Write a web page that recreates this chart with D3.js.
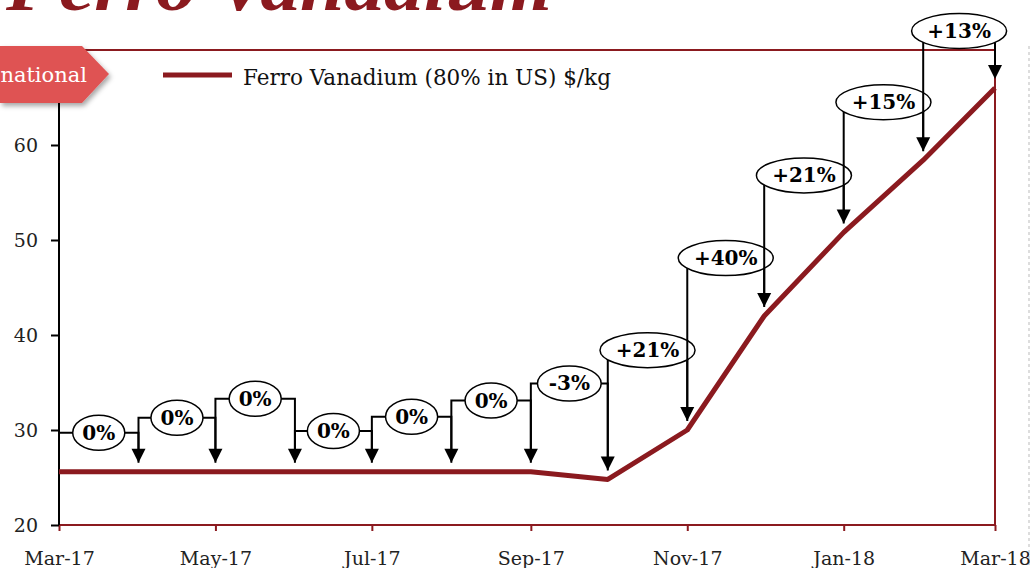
<!DOCTYPE html>
<html lang="en">
<head>
    <meta charset="UTF-8">
    <title>Ferro Vanadium</title>
    <style>
        body {
            margin: 0;
            background: #fff;
        }
        svg {
            display: block;
        }
        .axis text {
            font-family: "DejaVu Serif", serif;
            font-size: 19px;
            fill: #222;
        }
        .note text {
            font-family: "DejaVu Serif", serif;
            font-size: 20px;
            font-weight: bold;
        }
    </style>
</head>
<body>
    <svg width="1030" height="568"></svg>

    <script src="https://d3js.org/d3.v7.min.js"></script>
    <script>
        // monthly prices, $/kg
        const months = ["2017-03", "2017-04", "2017-05", "2017-06", "2017-07", "2017-08", "2017-09",
                        "2017-10", "2017-11", "2017-12", "2018-01", "2018-02", "2018-03"];
        const prices = [25.6, 25.6, 25.6, 25.6, 25.6, 25.6, 25.6, 24.8, 30.0, 42.0, 50.8, 58.4, 66.0];

        // month-on-month change callouts
        const changeLabels = ["0%", "0%", "0%", "0%", "0%", "0%", "-3%", "+21%", "+40%", "+21%", "+15%", "+13%"];
        const labelLevels = [29.7, 31.3, 33.3, 29.9, 31.4, 33.1, 34.9, 38.4, 48.1, 56.8, 64.5, 72.0];

        const yTicks = [20, 30, 40, 50, 60];
        const legendLabel = "Ferro Vanadium (80% in US) $/kg";

        const dark = "#8b1a1f";
        const parse = d3.timeParse("%Y-%m");
        const dates = months.map(parse);

        const svg = d3.select("svg");
        const plotLeft = 59, plotRight = 995, plotTop = 50, plotBottom = 525;

        const x = d3.scaleTime()
            .domain(d3.extent(dates))
            .range([plotLeft, plotRight]);

        const y = d3.scaleLinear()
            .domain([20, 70])
            .range([plotBottom, plotTop]);

        // drop shadow for the section tag
        const defs = svg.append("defs");
        const shadow = defs.append("filter").attr("id", "shadow")
            .attr("x", "-20%").attr("y", "-20%").attr("width", "150%").attr("height", "160%");
        shadow.append("feDropShadow")
            .attr("dx", 2).attr("dy", 3).attr("stdDeviation", 2.5)
            .attr("flood-color", "#000").attr("flood-opacity", 0.35);

        // title, cut off at the top of the picture like in the slide
        svg.append("text")
            .attr("x", 6)
            .attr("y", 10)
            .attr("textLength", 546)
            .attr("lengthAdjust", "spacingAndGlyphs")
            .style("font-family", "'Liberation Serif', serif")
            .style("font-style", "italic")
            .style("font-weight", "bold")
            .style("font-size", "70px")
            .style("fill", dark)
            .text("Ferro Vanadium");

        // plot frame
        svg.append("path")
            .attr("d", `M${plotLeft},${plotTop}H${plotRight}V${plotBottom}H${plotLeft}`)
            .attr("fill", "none")
            .attr("stroke", dark)
            .attr("stroke-width", 2);

        // slide edge
        svg.append("line")
            .attr("x1", 1029).attr("x2", 1029)
            .attr("y1", 46).attr("y2", 568)
            .attr("stroke", "#bbb")
            .attr("stroke-dasharray", "3,3");

        // x axis
        const xAxis = svg.append("g")
            .attr("class", "axis")
            .attr("transform", `translate(0,${plotBottom})`)
            .call(d3.axisBottom(x)
                .tickValues(dates.filter((d, i) => i % 2 === 0))
                .tickFormat(d3.timeFormat("%b-%y"))
                .tickSize(6)
                .tickPadding(21));
        xAxis.select(".domain").remove();
        xAxis.selectAll(".tick line").attr("stroke", dark).attr("stroke-width", 2);

        // y axis
        const yAxis = svg.append("g")
            .attr("class", "axis")
            .attr("transform", `translate(${plotLeft},0)`)
            .call(d3.axisLeft(y)
                .tickValues(yTicks)
                .tickSize(8)
                .tickPadding(13));
        yAxis.select(".domain").attr("stroke", "#000").attr("stroke-width", 2)
            .attr("d", `M0,${plotTop}V${plotBottom}`);
        yAxis.selectAll(".tick line").attr("stroke", "#000").attr("stroke-width", 2);

        // price line
        const line = d3.line()
            .x((d, i) => x(dates[i]))
            .y(d => y(d));

        svg.append("path")
            .datum(prices)
            .attr("d", line)
            .attr("fill", "none")
            .attr("stroke", dark)
            .attr("stroke-width", 5)
            .attr("stroke-linejoin", "round");

        // callout brackets with arrows
        const notes = changeLabels.map((label, i) => ({
            label,
            x0: x(dates[i]),
            x1: x(dates[i + 1]),
            h: y(labelLevels[i]),
            tip0: y(prices[i]) - 9,
            tip1: y(prices[i + 1]) - 9
        }));

        const note = svg.append("g")
            .attr("class", "note")
            .selectAll("g")
            .data(notes)
            .join("g");

        note.append("path")
            .attr("d", d => `M${d.x0},${d.tip0}V${d.h}H${d.x1}V${d.tip1 - 13}`)
            .attr("fill", "none")
            .attr("stroke", "#000")
            .attr("stroke-width", 2);

        note.append("path")
            .attr("d", d => `M${d.x1 - 7},${d.tip1 - 14}H${d.x1 + 7}L${d.x1},${d.tip1}Z`)
            .attr("fill", "#000");

        note.each(function(d) {
            const g = d3.select(this);
            const ell = g.append("ellipse");
            const t = g.append("text")
                .attr("x", (d.x0 + d.x1) / 2)
                .attr("y", d.h)
                .attr("dy", "0.35em")
                .attr("text-anchor", "middle")
                .text(d.label);
            const w = t.node().getComputedTextLength();
            ell.attr("cx", (d.x0 + d.x1) / 2)
                .attr("cy", d.h)
                .attr("rx", w * 0.7 + 3)
                .attr("ry", 17.5)
                .attr("fill", "#fff")
                .attr("stroke", "#000")
                .attr("stroke-width", 1.5);
        });

        // section tag
        svg.append("path")
            .attr("d", "M0,46H82L109,74L82,103H0Z")
            .attr("fill", "#df5252")
            .attr("filter", "url(#shadow)");

        svg.append("text")
            .attr("x", 87)
            .attr("y", 82)
            .attr("text-anchor", "end")
            .style("font-family", "'DejaVu Serif', serif")
            .style("font-size", "21px")
            .style("fill", "#fff")
            .text("national");

        // legend
        svg.append("line")
            .attr("x1", 163).attr("x2", 232)
            .attr("y1", 75).attr("y2", 75)
            .attr("stroke", dark)
            .attr("stroke-width", 5);

        svg.append("text")
            .attr("x", 243)
            .attr("y", 85)
            .style("font-family", "'DejaVu Serif', serif")
            .style("font-size", "21.5px")
            .style("fill", "#111")
            .text(legendLabel);
    </script>
</body>
</html>
